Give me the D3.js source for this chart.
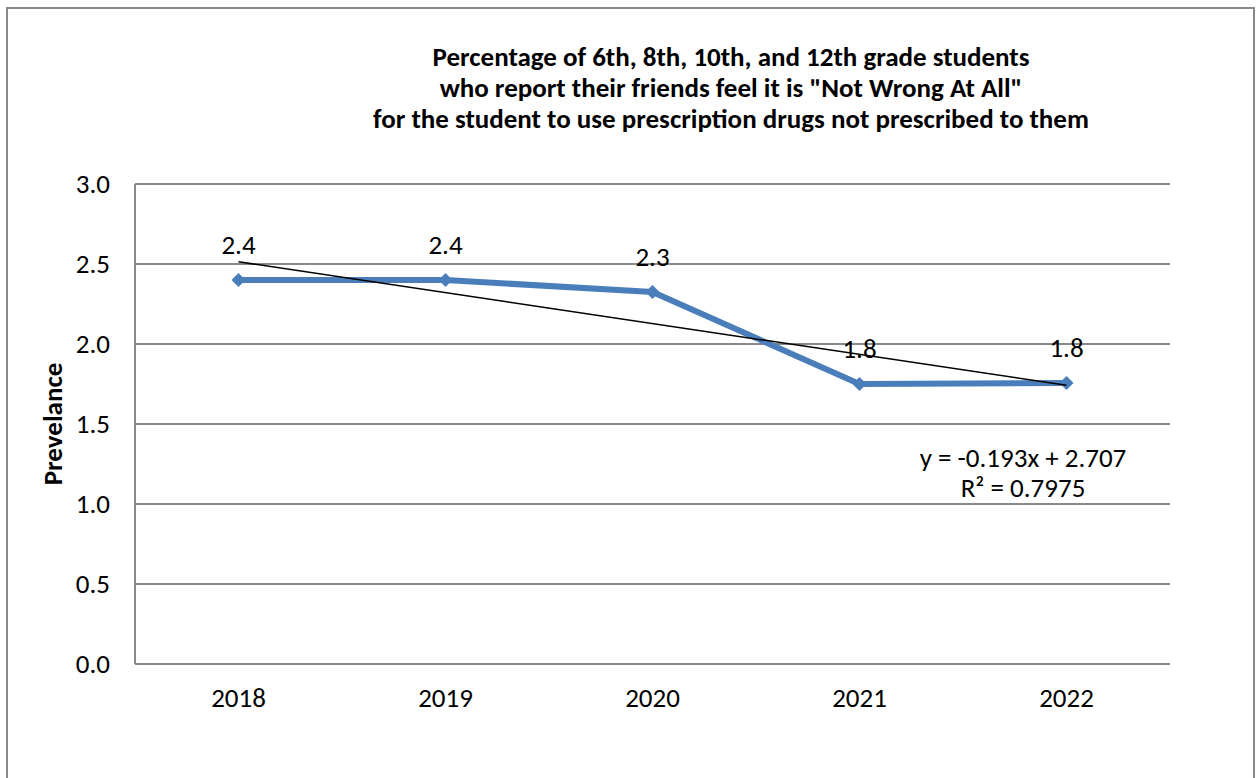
<!DOCTYPE html>
<html><head><meta charset="utf-8">
<script src="https://cdn.jsdelivr.net/npm/d3@7"></script>
<style>
html,body{margin:0;padding:0;background:#fff;}
svg text{font-family:Carlito, Calibri, "Open Sans", sans-serif;fill:#000;}
</style></head>
<body>
<svg id="c" width="1257" height="778"></svg>
<script>
const years = ["2018","2019","2020","2021","2022"];
const values = [2.4, 2.4, 2.325, 1.75, 1.756];
const labels = ["2.4","2.4","2.3","1.8","1.8"];
const yTicks = [0, 0.5, 1.0, 1.5, 2.0, 2.5, 3.0];
const trendCoef = [-0.193, 2.707];
const trendText = ["y = -0.193x + 2.707", "R\u00B2 = 0.7975"];
const titleLines = ["Percentage of 6th, 8th, 10th, and 12th grade students",
  "who report their friends feel it is \"Not Wrong At All\"",
  "for the student to use prescription drugs not prescribed to them"];
const yTitle = "Prevelance";

const FS = 27;
const svg = d3.select("#c");
const L=135, R=1170, T=184, B=664;
const x = d3.scaleBand().domain(years).range([L,R]);
const y = d3.scaleLinear().domain([0,3]).range([B,T]);
const cx = d => x(d)+x.bandwidth()/2;

// outer frame
svg.append("rect").attr("x",7).attr("y",8).attr("width",1247).attr("height",800)
  .attr("fill","none").attr("stroke","#898989").attr("stroke-width",2);

// gridlines
svg.append("g").selectAll("line").data(yTicks).join("line")
  .attr("x1",L).attr("x2",R).attr("y1",d=>y(d)).attr("y2",d=>y(d))
  .attr("stroke","#898989").attr("stroke-width",2);
// y axis line
svg.append("line").attr("x1",L).attr("x2",L).attr("y1",T).attr("y2",B)
  .attr("stroke","#898989").attr("stroke-width",2);

// y tick labels
const ya = d3.axisLeft(y).tickValues(yTicks).tickFormat(d3.format(".1f")).tickSize(0).tickPadding(25);
const yg = svg.append("g").attr("transform",`translate(${L},0)`).call(ya);
yg.select(".domain").remove();
yg.selectAll("text").attr("font-size",FS).style("font-family","Carlito, Calibri, 'Open Sans', sans-serif");

// x tick labels
const xa = d3.axisBottom(x).tickSize(0).tickPadding(24);
const xg = svg.append("g").attr("transform",`translate(0,${B})`).call(xa);
xg.select(".domain").remove();
xg.selectAll("text").attr("font-size",FS).style("font-family","Carlito, Calibri, 'Open Sans', sans-serif");

// series line
const line = d3.line().x((d,i)=>cx(years[i])).y(d=>y(d));
svg.append("path").datum(values).attr("d",line).attr("fill","none")
  .attr("stroke","#4a7ebb").attr("stroke-width",6).attr("stroke-linejoin","round");
svg.append("g").selectAll("path").data(values).join("path")
  .attr("d",d3.symbol(d3.symbolSquare,100)())
  .attr("transform",(d,i)=>`translate(${cx(years[i])},${y(d)}) rotate(45)`)
  .attr("fill","#4a7ebb");

// trendline
const tr = years.map((d,i)=>trendCoef[0]*(i+1)+trendCoef[1]);
svg.append("line").attr("x1",cx(years[0])).attr("y1",y(tr[0]))
  .attr("x2",cx(years[years.length-1])).attr("y2",y(tr[tr.length-1]))
  .attr("stroke","#000").attr("stroke-width",1.5);

// data labels
svg.append("g").selectAll("text").data(values).join("text")
  .attr("x",(d,i)=>cx(years[i])).attr("y",d=>y(d)-26)
  .attr("text-anchor","middle").attr("font-size",FS).text((d,i)=>labels[i]);

// trend equation
svg.append("g").selectAll("text").data(trendText).join("text")
  .attr("x",1023).attr("y",(d,i)=>467+i*30).attr("text-anchor","middle")
  .attr("font-size",FS).text(d=>d);

// title
svg.append("g").selectAll("text").data(titleLines).join("text")
  .attr("x",731).attr("y",(d,i)=>66+i*31).attr("text-anchor","middle")
  .attr("font-size",FS).attr("font-weight","bold").text(d=>d);

// y title
svg.append("text").attr("transform",`translate(62,${(T+B)/2}) rotate(-90)`)
  .attr("text-anchor","middle").attr("font-size",FS).attr("font-weight","bold").text(yTitle);
</script>
</body></html>
